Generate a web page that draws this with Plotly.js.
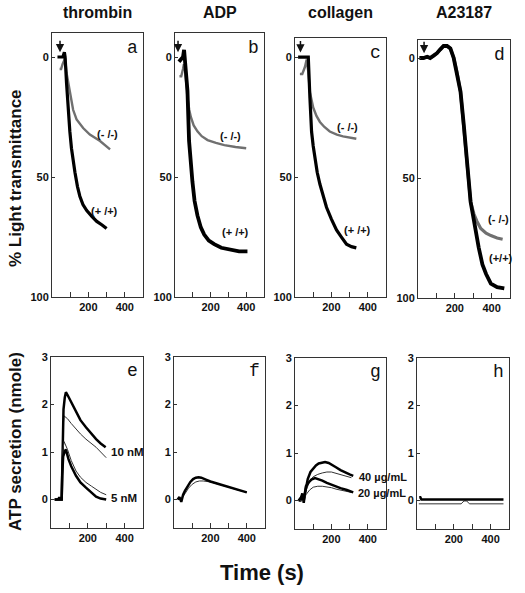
<!DOCTYPE html>
<html><head><meta charset="utf-8">
<script src="https://cdn.plot.ly/plotly-3.0.1.min.js"></script>
<style>body{margin:0;background:#fff}#chart{width:525px;height:593px}</style>
</head><body><div id="chart"></div>
<script>
// ---------- DATA ----------
const panelTitles = ['thrombin', 'ADP', 'collagen', 'A23187'];
const panelLetters = ['a','b','c','d','e','f','g','h'];
const xTickVals = [100, 200, 300, 400];
const xTickText = ['', '200', '', '400'];
const topYTicks = [0, 50, 100];
const botYTicks = [0, 1, 2, 3];

// a: thrombin aggregation
const aWtT = [30, 45, 60, 68, 72, 80, 89, 98, 107, 116, 126, 140, 153, 170, 191, 220, 246, 275, 300];
const aWtV = [0, 0, 0, -2, 0, 11, 22, 31, 38, 44, 48, 54, 58, 61.5, 64, 66.5, 68.5, 70, 71.5];
const aKoT = [42, 50, 58, 66, 72, 80, 98, 116, 135, 171, 208, 264, 319];
const aKoV = [5, 5, 3, 1, 0.5, 6.7, 15, 22, 26, 29.6, 32.3, 35, 38.5];
// b: ADP aggregation
const bWtT = [22, 35, 45, 51, 58, 70, 79, 90, 98, 110, 126, 145, 164, 190, 220, 260, 315, 360, 407];
const bWtV = [2, 1, 0, -3, 3, 14, 35, 46, 52, 60, 66, 71, 74, 76.5, 78, 79.5, 80.5, 81, 81];
const bKoT = [25, 35, 45, 50, 58, 70, 80, 89, 105, 126, 150, 183, 230, 277, 340, 400];
const bKoV = [8, 8, 5, 3, 6, 17, 22, 25, 28.5, 31, 33, 34.6, 35.8, 36.7, 37.5, 38];
// c: collagen aggregation
const cWtT = [17, 40, 60, 73, 82, 91, 100, 109, 122, 137, 155, 173, 200, 228, 255, 283, 310, 337];
const cWtV = [0, 0, 0, 0, 17, 31, 37, 42, 48, 53, 58, 62.6, 67.5, 72, 75, 78, 79, 79.5];
const cKoT = [27, 40, 55, 64, 73, 82, 100, 118, 137, 160, 191, 230, 264, 300, 337];
const cKoV = [7, 7, 4, 1, 6, 14.6, 21, 24.5, 27, 29, 31, 32.3, 33, 33.6, 34];
// d: A23187 aggregation
const dWtT = [8, 30, 50, 66, 85, 103, 120, 139, 158, 176, 194, 212, 231, 249, 267, 286, 300, 313, 330, 350, 370, 396, 430, 469];
const dWtV = [0, 0, -0.5, 0, -1, -2, -3.5, -5, -5, -4, 0, 6, 14, 28, 44, 60, 66, 72, 79, 86, 90, 94, 95.5, 96];
const dKoT = [8, 30, 50, 66, 85, 103, 120, 139, 158, 176, 194, 212, 231, 249, 267, 286, 304, 320, 341, 370, 396, 430, 460];
const dKoV = [0, 0, -0.5, 0, -1, -2, -3.5, -5, -5, -4, 0, 6, 14, 28, 44, 60, 65, 68, 71, 73, 74, 75, 75.5];

// e: thrombin ATP secretion
const e10WtT = [20, 40, 45, 50, 58, 60, 62, 68, 75, 81, 90, 110, 136, 160, 190, 220, 245, 270, 297];
const e10WtV = [0, 0, 0.05, 0, 0, 0.5, 1.2, 1.9, 2.15, 2.26, 2.2, 2.05, 1.83, 1.67, 1.52, 1.38, 1.27, 1.18, 1.1];
const e10KoT = [20, 58, 61, 65, 71, 90, 110, 136, 160, 190, 220, 245, 270, 300];
const e10KoV = [0, 0, 0.8, 1.5, 1.76, 1.7, 1.6, 1.48, 1.38, 1.27, 1.18, 1.1, 1.0, 0.88];
const e5KoT = [20, 58, 61, 65, 71, 90, 110, 136, 160, 190, 220, 245, 270, 300];
const e5KoV = [0, 0, 0.6, 1.05, 1.22, 1.05, 0.82, 0.6, 0.47, 0.36, 0.28, 0.21, 0.15, 0.1];
const e5WtT = [20, 58, 61, 66, 75, 81, 95, 110, 136, 160, 190, 220, 245, 270, 300];
const e5WtV = [0, 0, 0.5, 0.9, 1.02, 1.05, 0.85, 0.7, 0.5, 0.36, 0.25, 0.14, 0.06, 0.02, 0];
// f: ADP ATP secretion
const fWtT = [20, 30, 40, 50, 60, 75, 90, 105, 120, 135, 150, 175, 200, 250, 300, 350, 400];
const fWtV = [0, 0.05, -0.05, 0.1, 0.18, 0.28, 0.37, 0.43, 0.46, 0.47, 0.46, 0.42, 0.38, 0.32, 0.26, 0.2, 0.15];
const fKoT = [20, 40, 60, 80, 100, 120, 140, 160, 200, 250, 300, 350, 400];
const fKoV = [0, 0, 0.12, 0.24, 0.32, 0.37, 0.39, 0.39, 0.37, 0.32, 0.26, 0.2, 0.15];
// g: collagen ATP secretion
const g40WtT = [20, 30, 40, 48, 55, 70, 85, 100, 115, 130, 150, 165, 185, 200, 225, 250, 275, 300, 320];
const g40WtV = [0, 0, 0.15, -0.05, 0.15, 0.45, 0.6, 0.68, 0.74, 0.78, 0.8, 0.81, 0.79, 0.76, 0.7, 0.64, 0.59, 0.55, 0.52];
const g40KoT = [20, 48, 60, 80, 100, 125, 150, 175, 200, 225, 250, 280, 310];
const g40KoV = [0, 0, 0.2, 0.4, 0.5, 0.55, 0.58, 0.6, 0.6, 0.57, 0.54, 0.51, 0.48];
const g20WtT = [20, 40, 48, 60, 75, 90, 110, 130, 150, 175, 200, 225, 250, 285, 320];
const g20WtV = [0, 0.1, 0, 0.3, 0.38, 0.44, 0.47, 0.45, 0.42, 0.37, 0.33, 0.29, 0.26, 0.22, 0.17];
const g20KoT = [20, 48, 60, 80, 100, 125, 150, 175, 200, 225, 250, 280, 310];
const g20KoV = [0, 0, 0.12, 0.22, 0.28, 0.3, 0.3, 0.29, 0.27, 0.24, 0.22, 0.19, 0.17];
// h: A23187 ATP secretion
const hWtT = [12, 18, 24, 30, 470];
const hWtV = [0.07, 0.07, 0.02, 0.02, 0.02];
const hKoT = [10, 240, 255, 270, 285, 470];
const hKoV = [-0.07, -0.07, -0.01, -0.01, -0.07, -0.07];

const arrowT = [44, 17, 30, 33];

// ---------- LAYOUT (pixel boxes of each panel) ----------
const W = 525, H = 593;
const boxes = [
  {l:52, r:143, t:33, b:297, yr:[100,-10]},
  {l:175, r:264, t:33, b:297, yr:[100,-10]},
  {l:295, r:386, t:38, b:297, yr:[100,-8]},
  {l:418, r:510, t:40, b:298, yr:[100,-7.5]},
  {l:51, r:143, t:357, b:528, yr:[-0.6,3]},
  {l:174, r:265, t:357, b:528, yr:[-0.6,3]},
  {l:295, r:386, t:358, b:529, yr:[-0.6,3]},
  {l:417, r:509, t:358, b:529, yr:[-0.6,3]}
];

const tickFont = {family:'Liberation Sans, Arial, sans-serif', size:11, color:'#111', weight:'bold'};
const layout = {
  width: W, height: H,
  margin: {l:0, r:0, t:0, b:0},
  paper_bgcolor: '#fff', plot_bgcolor: 'rgba(0,0,0,0)',
  showlegend: false,
  annotations: [],
  font: {family:'Liberation Sans, Arial, sans-serif', color:'#111'}
};

boxes.forEach((bx, i) => {
  const n = i === 0 ? '' : String(i + 1);
  const top = i < 4;
  layout['xaxis' + n] = {
    domain: [bx.l / W, bx.r / W], anchor: 'y' + n, range: [0, 500],
    showline: true, mirror: true, linecolor: '#333', linewidth: 1,
    showgrid: false, zeroline: false,
    tickmode: 'array', tickvals: xTickVals, ticktext: xTickText,
    ticks: 'inside', ticklen: 5, tickcolor: '#333', tickfont: tickFont, fixedrange: true
  };
  layout['yaxis' + n] = {
    domain: [1 - bx.b / H, 1 - bx.t / H], anchor: 'x' + n, range: bx.yr,
    showline: true, mirror: true, linecolor: '#333', linewidth: 1,
    showgrid: false, zeroline: false,
    tickmode: 'array', tickvals: top ? topYTicks : botYTicks,
    ticks: 'inside', ticklen: 3, tickcolor: '#333', tickfont: tickFont, fixedrange: true
  };
  layout.annotations.push({
    xref: 'x' + n + ' domain', yref: 'y' + n + ' domain', x: 0.97, y: 0.99,
    xanchor: 'right', yanchor: 'top', showarrow: false,
    text: panelLetters[i],
    font: {family:'Liberation Mono, Courier New, monospace', size:18, color:'#111'}
  });
});

panelTitles.forEach((t, i) => {
  const n = i === 0 ? '' : String(i + 1);
  layout.annotations.push({
    xref: 'x' + n + ' domain', yref: 'paper', x: 0.5, y: 1 - 13 / H,
    xanchor: 'center', yanchor: 'middle', showarrow: false,
    text: '<b>' + t + '</b>', font: {size: 16, color: '#111'}
  });
  layout.annotations.push({
    xref: 'x' + n, yref: 'y' + n, x: arrowT[i], y: -2,
    showarrow: true, arrowhead: 2, arrowsize: 1.1, arrowwidth: 1.5, arrowcolor: '#111',
    ax: 0, ay: -13, text: ''
  });
});

// big axis titles
layout.annotations.push(
  {xref:'paper', yref:'paper', x: 15 / W, y: 1 - 178 / H, xanchor:'center', yanchor:'middle',
   textangle: -90, showarrow:false,
   text:'<b>% Light transmittance</b>', font:{size:17, color:'#111'}},
  {xref:'paper', yref:'paper', x: 15 / W, y: 1 - 442 / H, xanchor:'center', yanchor:'middle',
   textangle: -90, showarrow:false,
   text:'<b>ATP secretion (nmole)</b>', font:{size:17, color:'#111'}},
  {xref:'paper', yref:'paper', x: 262 / W, y: 1 - 572 / H, xanchor:'center', yanchor:'middle',
   showarrow:false, text:'<b>Time (s)</b>', font:{size:22, color:'#111'}}
);

// curve labels
const lab = (n, x, y, txt, anchor, size) => layout.annotations.push({
  xref: 'x' + n, yref: 'y' + n, x: x, y: y, showarrow: false, xanchor: anchor || 'center',
  yanchor: 'middle', text: '<b>' + txt + '</b>', font: {size: size || 11, color: '#111'}
});
lab('', 305, 32, '(- /-)');
lab('', 290, 64, '(+ /+)');
lab('2', 310, 33, '(- /-)');
lab('2', 340, 73, '(+ /+)');
lab('3', 290, 29, '(- /-)');
lab('3', 345, 72, '(+ /+)');
lab('4', 440, 67, '(- /-)');
lab('4', 450, 83.5, '(+/+)');
lab('5', 315, 1.0, '10 nM', 'left', 11.5);
lab('5', 315, 0.03, '5 nM', 'left', 11.5);
lab('7', 340, 0.5, '40 \u00b5g/mL', 'left', 11);
lab('7', 335, 0.16, '20 \u00b5g/mL', 'left', 11);

// ---------- TRACES ----------
const GRAY = '#707070', BLACK = '#000', THIN = '#333';
const tr = (n, x, y, color, w) => ({
  type: 'scatter', mode: 'lines', x: x, y: y, xaxis: 'x' + n, yaxis: 'y' + n,
  line: {color: color, width: w}, hoverinfo: 'skip', cliponaxis: false
});
const data = [
  tr('', aKoT, aKoV, GRAY, 2.4), tr('', aWtT, aWtV, BLACK, 3.2),
  tr('2', bKoT, bKoV, GRAY, 2.4), tr('2', bWtT, bWtV, BLACK, 3.8),
  tr('3', cKoT, cKoV, GRAY, 2.4), tr('3', cWtT, cWtV, BLACK, 3.2),
  tr('4', dKoT, dKoV, GRAY, 3.2), tr('4', dWtT, dWtV, BLACK, 3.8),
  tr('5', e10KoT, e10KoV, THIN, 1), tr('5', e10WtT, e10WtV, BLACK, 2.5),
  tr('5', e5KoT, e5KoV, THIN, 1), tr('5', e5WtT, e5WtV, BLACK, 2.5),
  tr('6', fKoT, fKoV, THIN, 1), tr('6', fWtT, fWtV, BLACK, 2.5),
  tr('7', g40KoT, g40KoV, THIN, 1), tr('7', g40WtT, g40WtV, BLACK, 2.5),
  tr('7', g20KoT, g20KoV, THIN, 1), tr('7', g20WtT, g20WtV, BLACK, 2.5),
  tr('8', hKoT, hKoV, THIN, 1), tr('8', hWtT, hWtV, BLACK, 2.5)
];

Plotly.newPlot('chart', data, layout, {staticPlot: true, displayModeBar: false});
</script>
</body></html>
